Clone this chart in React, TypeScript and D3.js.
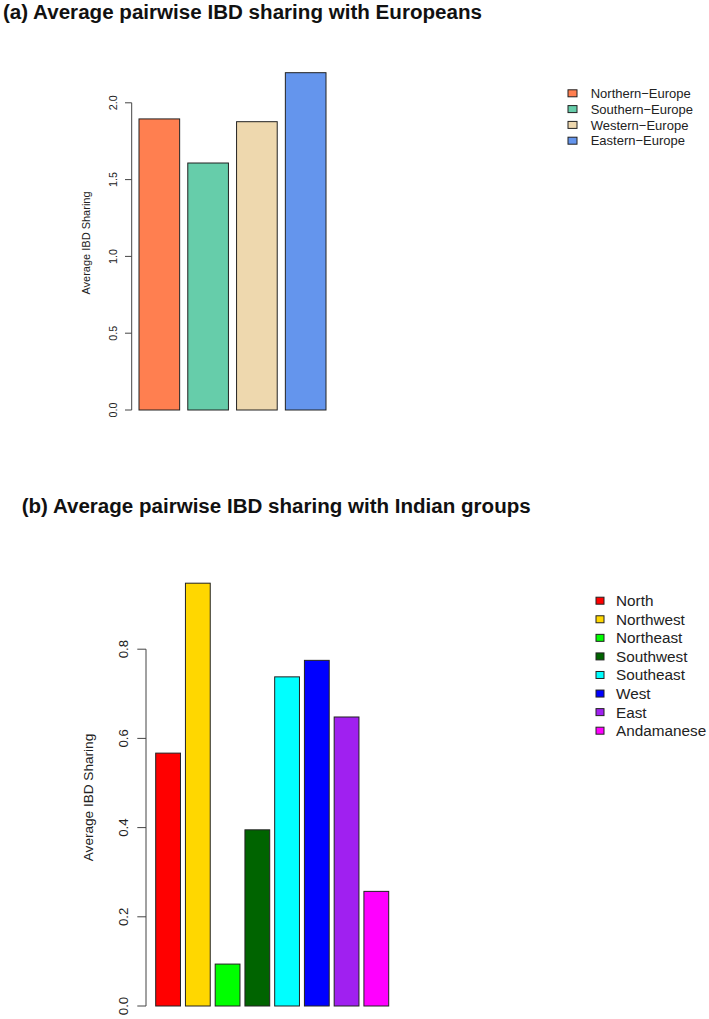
import React, { useEffect } from 'react'
import * as d3 from 'd3'

// (a) Europeans
const euroGroups = ['Northern−Europe', 'Southern−Europe', 'Western−Europe', 'Eastern−Europe']
const euroValues = [1.895, 1.608, 1.877, 2.196]
const euroColors = ['#FF7F50', '#66CDAA', '#EED8AE', '#6495ED']
const euroTicks = [0, 0.5, 1.0, 1.5, 2.0]

// (b) Indian groups
const indGroups = ['North', 'Northwest', 'Northeast', 'Southwest', 'Southeast', 'West', 'East', 'Andamanese']
const indValues = [0.567, 0.948, 0.094, 0.395, 0.738, 0.775, 0.648, 0.257]
const indColors = ['#FF0000', '#FFD700', '#00FF00', '#006400', '#00FFFF', '#0000FF', '#A020F0', '#FF00FF']
const indTicks = [0, 0.2, 0.4, 0.6, 0.8]

const font = '"Liberation Sans", Arial, Helvetica, sans-serif'

const Panel = ({ title, titleX, titleY, titleLen, groups, values, colors, ticks, yRange, xRange, layout }) => {
  const yScale = d3.scaleLinear().domain([0, 1]).range(yRange)
  const xScale = d3
    .scaleBand()
    .domain(groups)
    .range(xRange)
    .paddingInner(0.2 / 1.2)
    .paddingOuter(0)
  const axisX = layout.axisX
  const axisTop = yScale(ticks[ticks.length - 1])
  const axisBottom = yScale(ticks[0])
  return (
    <g>
      <text
        x={titleX}
        y={titleY}
        fontSize={20}
        fontWeight='bold'
        textLength={titleLen}
        lengthAdjust='spacingAndGlyphs'
        fill='#111'
      >
        {title}
      </text>
      {/* bars */}
      {groups.map((g, i) => (
        <rect
          key={g}
          x={xScale(g)}
          y={yScale(values[i])}
          width={xScale.bandwidth()}
          height={yScale(0) - yScale(values[i])}
          fill={colors[i]}
          stroke='#222'
          strokeWidth={1}
        />
      ))}
      {/* y axis */}
      <line x1={axisX} x2={axisX} y1={axisTop} y2={axisBottom} stroke='#444' strokeWidth={1} />
      {ticks.map((t) => (
        <g key={t} transform={`translate(0,${yScale(t)})`}>
          <line x1={axisX - layout.tickLen} x2={axisX} stroke='#444' strokeWidth={1} />
          <text
            transform={`translate(${layout.tickLabelX},0) rotate(-90)`}
            textAnchor='middle'
            fontSize={layout.tickFont}
            fill='#222'
          >
            {t.toFixed(1)}
          </text>
        </g>
      ))}
      <text
        transform={`translate(${layout.yTitleX},${layout.yTitleY}) rotate(-90)`}
        textAnchor='middle'
        fontSize={layout.yTitleFont}
        fill='#222'
      >
        Average IBD Sharing
      </text>
      {/* legend */}
      {groups.map((g, i) => {
        const cy = layout.legY + i * layout.legStep
        return (
          <g key={g}>
            <rect
              x={layout.legX}
              y={cy - layout.boxH / 2}
              width={layout.boxW}
              height={layout.boxH}
              fill={colors[i]}
              stroke='#222'
              strokeWidth={1}
            />
            <text x={layout.legTextX} y={cy} dy='0.36em' fontSize={layout.legFont} fill='#222'>
              {g}
            </text>
          </g>
        )
      })}
    </g>
  )
}

const App = () => {
  useEffect(() => {
    document.body.style.margin = '0'
  }, [])

  // value scales: data unit -> pixel, derived from tick positions
  const euroY = [410, 410 - 153.6]
  const indY = [1006, 1006 - 446]

  return (
    <svg width={709} height={1019} style={{ display: 'block', fontFamily: font }}>
      <rect width={709} height={1019} fill='#fff' />
      <Panel
        title='(a) Average pairwise IBD sharing with Europeans'
        titleX={3}
        titleY={18.5}
        titleLen={479}
        groups={euroGroups}
        values={euroValues}
        colors={euroColors}
        ticks={euroTicks}
        yRange={euroY}
        xRange={[139, 326]}
        layout={{
          axisX: 131.7,
          tickLen: 6.7,
          tickLabelX: 116.5,
          tickFont: 10.8,
          yTitleX: 89.5,
          yTitleY: 243,
          yTitleFont: 11,
          legX: 568,
          legY: 93.3,
          legStep: 15.8,
          boxW: 9,
          boxH: 7,
          legTextX: 590.7,
          legFont: 13,
        }}
      />
      <Panel
        title='(b) Average pairwise IBD sharing with Indian groups'
        titleX={21.7}
        titleY={513}
        titleLen={509}
        groups={indGroups}
        values={indValues}
        colors={indColors}
        ticks={indTicks}
        yRange={indY}
        xRange={[155.7, 388.7]}
        layout={{
          axisX: 146,
          tickLen: 8.7,
          tickLabelX: 128.3,
          tickFont: 13.2,
          yTitleX: 92.5,
          yTitleY: 797.5,
          yTitleFont: 13.6,
          legX: 596,
          legY: 600.7,
          legStep: 18.57,
          boxW: 8,
          boxH: 7,
          legTextX: 616,
          legFont: 15.3,
        }}
      />
    </svg>
  )
}

export default App
